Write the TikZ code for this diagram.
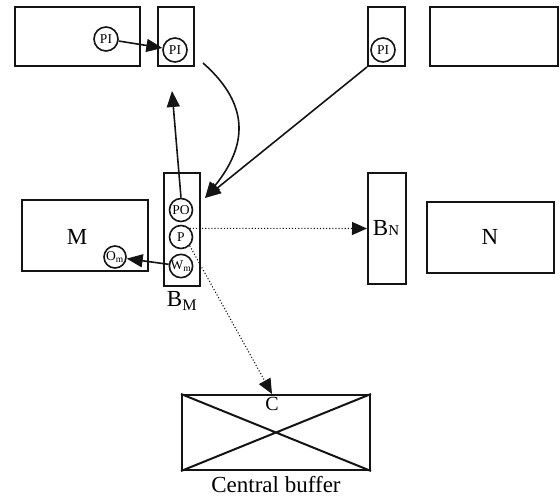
\documentclass[tikz,border=0pt]{standalone}
\usepackage{fontspec}
\setmainfont{Liberation Serif}
\usepackage{tikz}
\usetikzlibrary{arrows.meta,positioning}
\definecolor{inkblack}{RGB}{20,20,20}

\tikzset{
    blk/.style={draw=inkblack, line width=2pt, minimum width=#1, inner sep=0pt},
    token/.style={draw=inkblack, circle, line width=1.6pt, minimum size=24pt, inner sep=0pt, font=\fontsize{13.5}{13.5}\selectfont},
    flow/.style={inkblack, line width=1.6pt, -{Triangle[length=16pt,width=13pt]}},
    dotflow/.style={inkblack, line width=1.1pt, dotted, -{Triangle[length=15pt,width=13pt]}}
}

\begin{document}
\begin{tikzpicture}[x=1pt,y=-1pt]
\useasboundingbox (0,0) rectangle (560,501);

% =========================
% 1. top row
% =========================
\node[blk=125pt, minimum height=59pt] (upL) at (77.5,36.5) {};
\node[blk=36pt, minimum height=59pt] (upLB) at (176,36.5) {};
\node[blk=37pt, minimum height=59pt] (upRB) at (386.5,36.5) {};
\node[blk=128pt, minimum height=59pt] (upR) at (494,36.5) {};

\node[token] (piA) at (106,39) {PI};
\node[token] (piB) at (175,50) {PI};
\node[token] (piC) at (383,50) {PI};

\draw[flow] (piA) -- (piB);

% =========================
% 2. middle row
% =========================
\node[blk=36pt, minimum height=113pt] (bufM) at (182,229.5) {};
\node[blk=126pt, minimum height=71pt] (machM) at (85,235.5) {};
\node[blk=38pt, minimum height=111pt] (bufN) at (387,228.5) {};
\node[blk=127pt, minimum height=71pt] (machN) at (490.5,237.5) {};

\node[font=\fontsize{23}{23}\selectfont] (labM) at (77,237) {M};
\node[font=\fontsize{23}{23}\selectfont] (labN) at (490,237) {N};
\node[font=\fontsize{23}{23}\selectfont] (labBN) at (386,228) {B{\fontsize{15}{15}\selectfont N}};
\node[font=\fontsize{23}{23}\selectfont, below=1pt of bufM] (labBM) {B$_{\mathrm{M}}$};

\node[token, minimum size=23pt] (po) at (181,210) {PO};
\node[token, minimum size=23pt] (pp) at (181,237) {P};
\node[token, minimum size=23pt] (wm) at (181,266) {W$_{\mathrm{m}}$};
\node[token, minimum size=22pt] (om) at (115,257) {O$_{\mathrm{m}}$};

% free ends
\coordinate (upTip) at (172,91);
\coordinate (curveStart) at (203,63);
\coordinate (inTip) at (205,198);

\draw[flow] (po.north) -- (upTip);
\draw[flow] (curveStart) .. controls (245,100) and (252,140) .. (inTip);
\draw[flow] (upRB.south west) -- (inTip);
\draw[flow] (wm) -- (om);

% =========================
% 3. central buffer
% =========================
\node[blk=188pt, minimum height=75pt] (cbuf) at (276,432.5) {};
\draw[inkblack, line width=2pt] (cbuf.north west) -- (cbuf.south east)
    (cbuf.south west) -- (cbuf.north east);
\node[font=\fontsize{20}{20}\selectfont, below=0pt of cbuf.north, xshift=-4pt] (labC) {C};
\node[font=\fontsize{23}{23}\selectfont, below=2pt of cbuf] (labCB) {Central buffer};

\draw[dotflow] (pp.north east) -- (bufN.west);
\draw[dotflow] (pp.south east) -- ([xshift=-4pt]cbuf.north);

\end{tikzpicture}
\end{document}
